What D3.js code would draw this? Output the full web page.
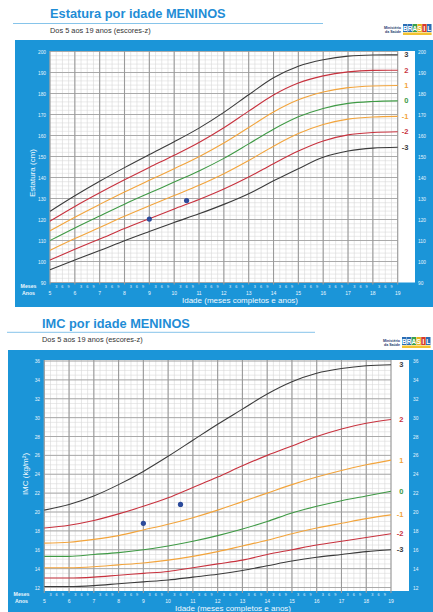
<!DOCTYPE html>
<html>
<head>
<meta charset="utf-8">
<script src="https://cdn.jsdelivr.net/npm/d3@7"></script>
<style>
  html, body { margin: 0; padding: 0; background: #fff; }
  svg { display: block; font-family: "Liberation Sans", Arial, sans-serif; }
</style>
</head>
<body>
<svg id="folha" width="433" height="612"></svg>
<script>
// ---- Dados (referência OMS 2007, meninos 5 a 19 anos) ----
const anos = [5, 6, 7, 8, 9, 10, 11, 12, 13, 14, 15, 16, 17, 18, 19];
const mesesMarcados = [3, 6, 9];
const escores = ["-3", "-2", "-1", "0", "1", "2", "3"];

// Estatura (cm) por idade, uma linha por escore-z
const estaturaM3 = [96.1, 100.7, 105.2, 109.9, 114.3, 118.6, 122.7, 127.2, 132.3, 138.4, 144.2, 149.6, 152.6, 154.0, 154.4];
const estaturaM2 = [100.7, 105.8, 110.7, 115.7, 120.4, 125.0, 129.5, 134.5, 140.2, 146.6, 152.6, 157.4, 160.3, 161.4, 161.8];
const estaturaM1 = [105.3, 110.9, 116.2, 121.5, 126.5, 131.4, 136.3, 141.8, 148.1, 154.9, 160.9, 165.2, 167.8, 168.8, 169.1];
const estatura0  = [110.0, 116.0, 121.7, 127.3, 132.6, 137.8, 143.1, 149.1, 156.0, 163.0, 168.9, 172.9, 175.3, 176.2, 176.5];
const estaturaP1 = [114.6, 121.1, 127.2, 133.1, 138.7, 144.2, 149.9, 156.4, 163.8, 171.2, 177.0, 180.7, 182.8, 183.6, 183.8];
const estaturaP2 = [119.2, 126.2, 132.7, 138.9, 144.8, 150.6, 156.7, 163.7, 171.6, 179.3, 185.0, 188.4, 190.3, 191.0, 191.1];
const estaturaP3 = [123.9, 131.3, 138.2, 144.7, 150.9, 157.0, 163.5, 171.0, 179.4, 187.5, 193.0, 196.1, 197.8, 198.3, 198.4];

// IMC (kg/m²) por idade, uma linha por escore-z
const imcM3 = [12.1, 12.1, 12.2, 12.4, 12.6, 12.8, 13.1, 13.4, 13.8, 14.3, 14.8, 15.2, 15.5, 15.8, 16.0];
const imcM2 = [13.0, 13.0, 13.1, 13.3, 13.5, 13.7, 14.1, 14.5, 14.9, 15.5, 16.0, 16.5, 16.9, 17.3, 17.7];
const imcM1 = [14.1, 14.1, 14.2, 14.4, 14.6, 14.9, 15.3, 15.8, 16.4, 17.0, 17.7, 18.3, 18.8, 19.3, 19.7];
const imc0  = [15.3, 15.3, 15.5, 15.7, 16.0, 16.4, 16.9, 17.5, 18.2, 19.0, 19.9, 20.6, 21.2, 21.7, 22.2];
const imcP1 = [16.7, 16.8, 17.1, 17.5, 18.1, 18.7, 19.4, 20.2, 21.1, 22.0, 22.9, 23.7, 24.4, 25.0, 25.5];
const imcP2 = [18.3, 18.6, 19.1, 19.8, 20.6, 21.5, 22.6, 23.7, 24.9, 26.0, 27.0, 28.0, 28.8, 29.4, 29.8];
const imcP3 = [20.2, 20.8, 21.7, 22.9, 24.3, 25.9, 27.6, 29.3, 30.9, 32.5, 33.8, 34.7, 35.2, 35.5, 35.6];

// Medições do paciente
const pacienteIdade = [9, 10.5];
const pacienteEstatura = [120.2, 129];
const pacienteImc = [18.8, 20.8];

const estaturaTicks = [90, 100, 110, 120, 130, 140, 150, 160, 170, 180, 190, 200];
const imcTicks = [12, 14, 16, 18, 20, 22, 24, 26, 28, 30, 32, 34, 36];

const coresEscore = ["#3b3b3b", "#c8323e", "#f2a43c", "#3f9a45", "#f2a43c", "#c8323e", "#3b3b3b"];
const AZUL = "#1b95d8";

const svg = d3.select("#folha");

function logo(g, x, y) {
  g.append("text").attr("x", x - 2).attr("y", y + 3).attr("text-anchor", "end")
    .attr("font-size", 3.6).attr("font-weight", "bold").attr("fill", "#1d3a6e").text("Ministério");
  g.append("text").attr("x", x - 2).attr("y", y + 7).attr("text-anchor", "end")
    .attr("font-size", 3.6).attr("font-weight", "bold").attr("fill", "#1d3a6e").text("da Saúde");
  const letras = ["B", "R", "A", "S", "I", "L"];
  const cores = ["#2a6db5", "#2a6db5", "#3aa14a", "#e9b31c", "#d83a2a", "#2a6db5"];
  letras.forEach((l, i) => {
    g.append("rect").attr("x", x + i * 4.8).attr("y", y - 2).attr("width", 4.5).attr("height", 8)
      .attr("fill", cores[i]);
    g.append("text").attr("x", x + i * 4.8 + 2.25).attr("y", y + 4.8).attr("text-anchor", "middle")
      .attr("font-size", 6.5).attr("font-weight", "bold").attr("fill", "#fff").text(l);
  });
  g.append("rect").attr("x", x).attr("y", y + 6.5).attr("width", 28.6).attr("height", 2.5).attr("fill", "#f2c230");
}

function desenharGrafico(o) {
  const g = svg.append("g");

  // cabeçalho
  g.append("text").attr("x", o.tituloX).attr("y", o.tituloY)
    .attr("font-size", 12.8).attr("font-weight", "bold").attr("fill", "#1f8dd6").text(o.titulo);
  g.append("line").attr("x1", o.linhaX1).attr("x2", o.linhaX2).attr("y1", o.linhaY).attr("y2", o.linhaY)
    .attr("stroke", "#86c4ea").attr("stroke-width", 1);
  g.append("text").attr("x", o.tituloX).attr("y", o.subY)
    .attr("font-size", 7.4).attr("fill", "#333").text("Dos 5 aos 19 anos (escores-z)");
  logo(g, o.logoX, o.logoY);

  // painel azul
  g.append("rect").attr("x", o.painel[0]).attr("y", o.painel[1])
    .attr("width", o.painel[2]).attr("height", o.painel[3]).attr("fill", AZUL);

  const x = d3.scaleLinear().domain([5, 19]).range(o.xRange);
  const y = d3.scaleLinear().domain(o.yDomain).range(o.yRange);

  // área branca do gráfico
  g.append("rect").attr("x", x(5)).attr("y", o.plotTop)
    .attr("width", o.plotRight - x(5)).attr("height", o.plotBottom - o.plotTop).attr("fill", "#fff");

  const grade = g.append("g");
  // linhas horizontais finas
  const menores = d3.range(o.yDomain[0], o.yDomain[1] + 1e-6, o.passoMenor);
  grade.selectAll(".hmin").data(menores).join("line")
    .attr("x1", x(5)).attr("x2", x(19)).attr("y1", d => y(d)).attr("y2", d => y(d))
    .attr("stroke", "#dadada").attr("stroke-width", 0.6);
  // linhas verticais finas (trimestres)
  const trimestres = d3.range(5, 19.001, 0.25);
  grade.selectAll(".vmin").data(trimestres).join("line")
    .attr("x1", d => x(d)).attr("x2", d => x(d)).attr("y1", o.plotTop).attr("y2", o.plotBottom)
    .attr("stroke", "#d6d6d6").attr("stroke-width", 0.6);
  // linhas horizontais principais
  grade.selectAll(".hmaj").data(o.ticks).join("line")
    .attr("x1", x(5)).attr("x2", x(19)).attr("y1", d => y(d)).attr("y2", d => y(d))
    .attr("stroke", "#a3a3a3").attr("stroke-width", 0.9);
  // linhas verticais principais (anos)
  grade.selectAll(".vmaj").data(anos).join("line")
    .attr("x1", d => x(d)).attr("x2", d => x(d)).attr("y1", o.plotTop).attr("y2", o.plotBottom + 2)
    .attr("stroke", "#9a9a9a").attr("stroke-width", 1.1);

  // curvas de escore-z
  const linha = d3.line().x((d, i) => x(anos[i])).y(d => y(d)).curve(d3.curveMonotoneX);
  o.series.forEach((s, i) => {
    g.append("path").attr("d", linha(s)).attr("fill", "none")
      .attr("stroke", coresEscore[i]).attr("stroke-width", 1.1);
    g.append("text").attr("x", o.rotuloZX).attr("y", y(s[s.length - 1]))
      .attr("dy", "0.35em").attr("text-anchor", "end")
      .attr("font-size", 7.5).attr("font-weight", "bold").attr("fill", coresEscore[i]).text(escores[i]);
  });

  // pontos do paciente
  g.selectAll(".pac").data(pacienteIdade).join("circle")
    .attr("cx", d => x(d)).attr("cy", (d, i) => y(o.paciente[i])).attr("r", 2.6).attr("fill", "#2c4b9b");

  // eixos verticais (rótulos brancos)
  const eixoEsq = d3.axisLeft(y).tickValues(o.ticks).tickSize(0).tickPadding(0);
  const ge = g.append("g").attr("transform", `translate(${o.rotEsqX},0)`).call(eixoEsq);
  const eixoDir = d3.axisRight(y).tickValues(o.ticks).tickSize(0).tickPadding(0);
  const gd = g.append("g").attr("transform", `translate(${o.rotDirX},0)`).call(eixoDir);
  [ge, gd].forEach(a => {
    a.select(".domain").remove();
    a.selectAll("text").attr("fill", "#e8f4fc").attr("font-size", 4.8)
      .attr("font-family", "Liberation Sans, Arial, sans-serif");
  });

  // eixo horizontal: meses e anos
  const ga = g.append("g");
  anos.slice(0, -1).forEach(a => {
    mesesMarcados.forEach(m => {
      ga.append("text").attr("x", x(a + m / 12)).attr("y", o.mesesY).attr("text-anchor", "middle")
        .attr("dy", "0.35em").attr("font-size", 3.8).attr("fill", "#e8f4fc").text(m);
    });
  });
  ga.selectAll(".ano").data(anos).join("text")
    .attr("x", d => x(d)).attr("y", o.anosY).attr("dy", "0.35em").attr("text-anchor", "middle")
    .attr("font-size", 5).attr("fill", "#eef7fd").text(d => d);
  ga.append("text").attr("x", o.legX).attr("y", o.mesesY).attr("dy", "0.35em").attr("text-anchor", "middle")
    .attr("font-size", 5.2).attr("font-weight", "bold").attr("fill", "#eef7fd").text("Meses");
  ga.append("text").attr("x", o.legX).attr("y", o.anosY).attr("dy", "0.35em").attr("text-anchor", "middle")
    .attr("font-size", 5.2).attr("font-weight", "bold").attr("fill", "#eef7fd").text("Anos");

  g.append("text").attr("x", o.tituloXEixoX).attr("y", o.tituloXEixoY).attr("text-anchor", "middle")
    .attr("font-size", 8).attr("fill", "#f2f9fe").text("Idade (meses completos e anos)");
  g.append("text").attr("transform", `translate(${o.tituloYEixoX},${o.tituloYEixoY}) rotate(-90)`)
    .attr("text-anchor", "middle").attr("font-size", 8).attr("fill", "#f2f9fe").text(o.tituloY_);
}

desenharGrafico({
  titulo: "Estatura por idade MENINOS", tituloX: 50, tituloY: 17.5, subY: 32.5,
  linhaX1: 13, linhaX2: 323, linhaY: 23.5, logoX: 403, logoY: 26,
  painel: [15, 40, 420, 267],
  xRange: [50, 397.7], yDomain: [90, 200], yRange: [282.5, 51.5],
  plotTop: 51, plotBottom: 282.5, plotRight: 415,
  passoMenor: 2, ticks: estaturaTicks,
  series: [estaturaM3, estaturaM2, estaturaM1, estatura0, estaturaP1, estaturaP2, estaturaP3],
  paciente: pacienteEstatura, rotuloZX: 408.5,
  rotEsqX: 46, rotDirX: 418,
  mesesY: 286.5, anosY: 293, legX: 28.5,
  tituloXEixoX: 240, tituloXEixoY: 302.5,
  tituloYEixoX: 35, tituloYEixoY: 173, tituloY_: "Estatura (cm)"
});

desenharGrafico({
  titulo: "IMC por idade MENINOS", tituloX: 42, tituloY: 327.7, subY: 341.8,
  linhaX1: 7, linhaX2: 315, linhaY: 332.3, logoX: 402, logoY: 339,
  painel: [8, 350, 425, 262],
  xRange: [44.3, 391], yDomain: [12, 36], yRange: [587.5, 361],
  plotTop: 360, plotBottom: 591, plotRight: 409,
  passoMenor: 0.5, ticks: imcTicks,
  series: [imcM3, imcM2, imcM1, imc0, imcP1, imcP2, imcP3],
  paciente: pacienteImc, rotuloZX: 403.5,
  rotEsqX: 40, rotDirX: 413,
  mesesY: 594.5, anosY: 601.5, legX: 21.5,
  tituloXEixoX: 233, tituloXEixoY: 610.5,
  tituloYEixoX: 28, tituloYEixoY: 474, tituloY_: "IMC (kg/m²)"
});
</script>
</body>
</html>
